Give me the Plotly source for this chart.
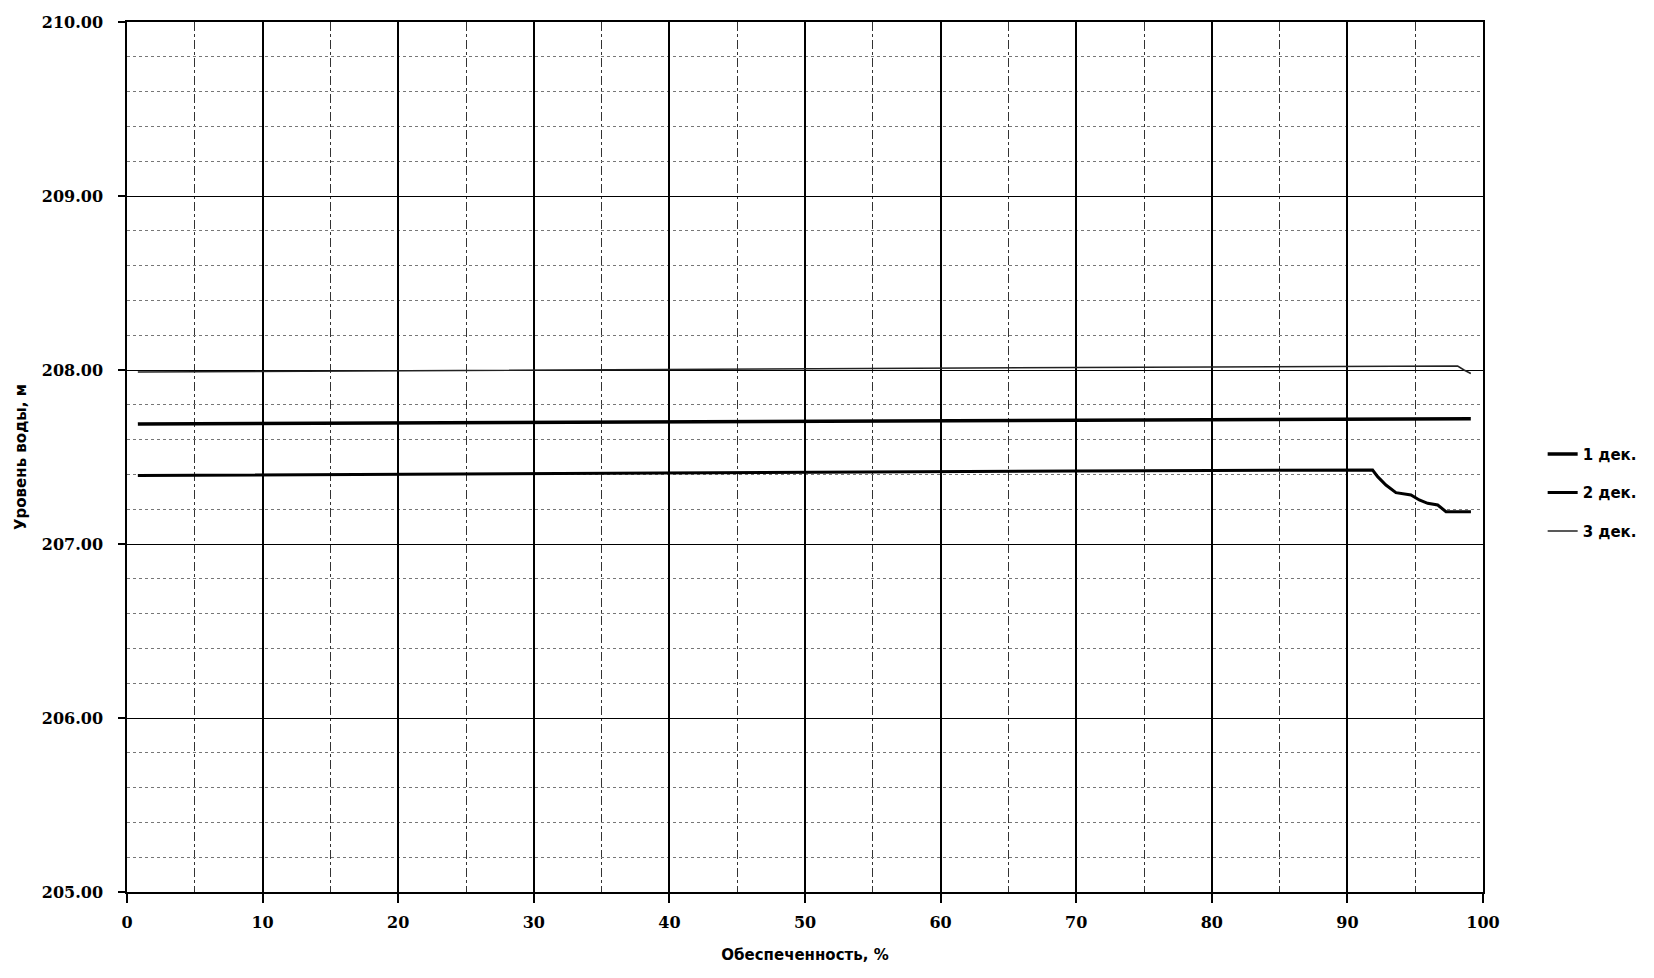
import plotly.graph_objects as go

# Обеспеченность, % and water levels (m) for each decade
x_dek1 = [0.8, 10, 20, 30, 40, 50, 60, 70, 80, 90, 99.1]
y_dek1 = [207.690, 207.693, 207.697, 207.700, 207.703, 207.706, 207.709, 207.712, 207.715, 207.718, 207.720]

x_dek2 = [0.8, 10, 20, 30, 40, 50, 60, 70, 80, 91.86, 92.23, 92.84, 93.58, 94.19, 94.69,
          95.30, 95.92, 96.66, 97.27, 99.11]
y_dek2 = [207.393, 207.397, 207.401, 207.405, 207.409, 207.413, 207.417, 207.420, 207.423, 207.425,
          207.387, 207.339, 207.295, 207.287, 207.282, 207.253, 207.234, 207.224, 207.186, 207.186]

x_dek3 = [0.8, 10, 20, 30, 40, 50, 60, 70, 80, 90, 98.13, 98.6, 99.1]
y_dek3 = [207.988, 207.992, 207.996, 208.000, 208.004, 208.008, 208.011, 208.014, 208.017, 208.020,
          208.023, 208.000, 207.980]

series_names = ["1 дек.", "2 дек.", "3 дек."]

fig = go.Figure()
fig.add_trace(go.Scatter(x=x_dek1, y=y_dek1, mode="lines", name=series_names[0], legendgroup="a",
                         line=dict(color="black", width=3.5)))
fig.add_trace(go.Scatter(x=x_dek2, y=y_dek2, mode="lines", name=series_names[1], legendgroup="b",
                         line=dict(color="black", width=3)))
fig.add_trace(go.Scatter(x=x_dek3, y=y_dek3, mode="lines", name=series_names[2], legendgroup="c",
                         line=dict(color="#222222", width=1.5)))

tick_font = dict(family="DejaVu Serif", size=16, color="black", weight="bold")
title_font = dict(family="DejaVu Sans", size=15, color="black", weight="bold")

fig.update_layout(
    width=1646, height=970,
    paper_bgcolor="white", plot_bgcolor="white",
    margin=dict(l=119, r=171, t=14, b=86, autoexpand=False),
    showlegend=True,
    legend=dict(x=1.044, y=0.459, xanchor="left", yanchor="middle",
                font=dict(family="DejaVu Sans", size=15, color="black", weight="bold"),
                traceorder="grouped", tracegroupgap=16, itemwidth=30,
                bgcolor="rgba(0,0,0,0)"),
    xaxis=dict(
        range=[0, 100], dtick=10, tick0=0, automargin=False,
        showgrid=True, gridcolor="black", gridwidth=2,
        showline=True, linecolor="black", linewidth=1.5, mirror=True,
        ticks="outside", ticklen=9, tickcolor="black", tickwidth=1.5,
        tickfont=tick_font, ticklabelstandoff=6,
        zeroline=False,
        minor=dict(dtick=5, showgrid=True, gridcolor="#333333", gridwidth=1, griddash="dashdot"),
        title=dict(text="Обеспеченность, %", font=title_font, standoff=19),
    ),
    yaxis=dict(
        range=[205, 210], dtick=1, tick0=205, tickformat=".2f", automargin=False,
        showgrid=True, gridcolor="black", gridwidth=1.3,
        showline=True, linecolor="black", linewidth=1.5, mirror=True,
        ticks="outside", ticklen=7, tickcolor="black", tickwidth=1.5,
        tickfont=tick_font, ticklabelstandoff=12,
        zeroline=False,
        minor=dict(dtick=0.2, showgrid=True, gridcolor="#777777", gridwidth=1, griddash="dot"),
        title=dict(text="Уровень воды, м", font=title_font, standoff=12),
    ),
)

fig.write_html("out.html")
